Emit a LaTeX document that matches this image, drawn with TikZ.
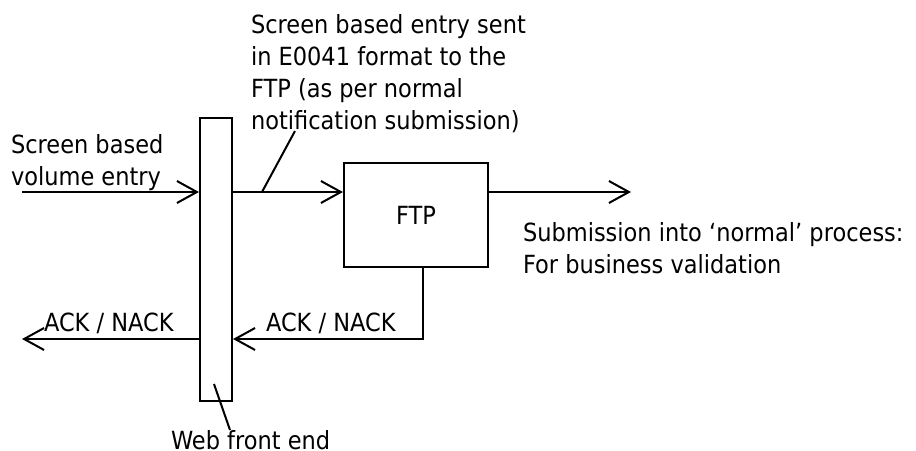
\documentclass[tikz,border=0pt]{standalone}
\usepackage{fontspec}
\setmainfont{DejaVu Sans}[FakeStretch=0.9]
\usetikzlibrary{arrows.meta}
\begin{document}
\begin{tikzpicture}[x=1pt,y=-1pt,line width=2pt,
  arr/.style={-{Straight Barb[length=20pt,width=22pt]}},
  lbl/.style={anchor=base west,align=left,inner sep=0pt,font=\fontsize{25}{32}\selectfont},
  boxn/.style={draw,inner sep=0pt}]
\useasboundingbox (0,0) rectangle (916,450);
% nodes
\node[boxn,minimum width=32pt,minimum height=283pt,anchor=north west] (web) at (199,117) {};
\node[boxn,minimum width=144pt,minimum height=104pt,anchor=north west,font=\fontsize{25}{32}\selectfont] (ftp) at (343,162) {FTP};
% labels (base anchor = baseline of last line)
\node[lbl] (note) at (250,129) {Screen based entry sent\\in E0041 format to the\\FTP (as per normal\\notification submission)};
\node[lbl] (inlbl) at (10,185) {Screen based\\volume entry};
\node[lbl] (sub) at (522,273) {Submission into ‘normal’ process:\\For business validation};
\node[lbl] (ackl) at (43,331) {ACK / NACK};
\node[lbl] (ackr) at (265,331) {ACK / NACK};
\node[lbl] (weblbl) at (170,449) {Web front end};
% coordinates
\coordinate (inS) at (22,192);
\coordinate (outE) at (631,192);
\coordinate (ret) at (423,339);
\coordinate (ackE) at (22,339);
\coordinate (noteA) at (262,192);
\coordinate (noteB) at (295,131);
\coordinate (webA) at (214,384);
\coordinate (webB) at (230,430);
% connectors
\draw[arr] (inS) -- (inS -| web.west);
\draw[arr] (inS -| web.east) -- (inS -| ftp.west);
\draw[arr] (outE -| ftp.east) -- (outE);
\draw[arr] (ret |- ftp.south) -- (ret) -- (ret -| web.east);
\draw[arr] (ackE -| web.west) -- (ackE);
\draw (noteA) -- (noteB);
\draw (webA) -- (webB);
\end{tikzpicture}
\end{document}
